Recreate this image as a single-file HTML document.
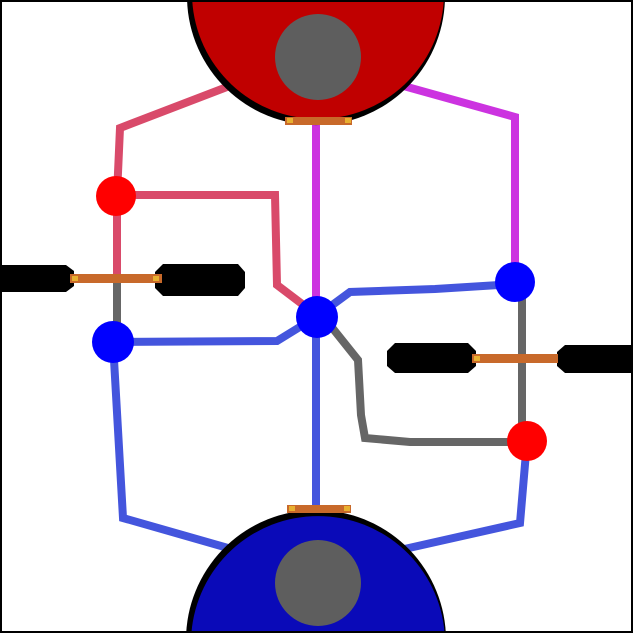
<!DOCTYPE html>
<html><head><meta charset="utf-8"><style>
html,body{margin:0;padding:0;background:#fff;width:633px;height:633px;overflow:hidden}
svg{display:block;overflow:hidden}
</style></head><body>
<svg width="633" height="633" viewBox="0 0 633 633">
<rect x="0" y="0" width="633" height="633" fill="#fff"/>
<g fill="none" stroke-width="8" stroke-linejoin="miter">
<polyline stroke="#d94a6a" points="240,82 120,128 117,195 117,278"/>
<polyline stroke="#d94a6a" points="130,195 275,195 277,285 310,310"/>
<polyline stroke="#cc33e0" points="316,122 316,310"/>
<polyline stroke="#cc33e0" points="400,85 515,117 515,280"/>
<polyline stroke="#666" points="117,282 117,340"/>
<polyline stroke="#666" points="522,282 522,441"/>
<polyline stroke="#666" points="330,325 358,360 361,415 365,438 410,442 527,442"/>
<polyline stroke="#4455dd" points="113,342 277,341 316,317"/>
<polyline stroke="#4455dd" points="316,317 350,292 435,289 515,284"/>
<polyline stroke="#4455dd" points="316,317 316,512"/>
<polyline stroke="#4455dd" points="113,342 123,518 235,550"/>
<polyline stroke="#4455dd" points="527,441 520,523 400,550"/>
</g>
<g>
<path d="M187.06,0 A129,129 0 0,0 444.94,0 Z" fill="#000"/>
<path d="M192.2,0 A126,126 0 0,0 443.8,0 Z" fill="#c00000"/>
<circle cx="318" cy="57" r="43" fill="#5e5e5e"/>
</g>
<g>
<path d="M186.19,633 A130,130 0 0,1 445.81,633 Z" fill="#000"/>
<path d="M191.4,633 A127,127 0 0,1 444.6,633 Z" fill="#0a0ab8"/>
<circle cx="318" cy="583" r="43" fill="#5e5e5e"/>
</g>
<g>
<path d="M0,265 H66 L74,271 V286 L66,292 H0 Z" fill="#000"/>
<path d="M163,264 H238 L245,272 V288 L238,296 H163 L155,288 V272 Z" fill="#000"/>
<rect x="70" y="274" width="92" height="9" fill="#c8692a"/>
<rect x="72" y="276" width="6" height="5" fill="#e8b030"/>
<rect x="153" y="276" width="6" height="5" fill="#e8b030"/>
</g>
<g>
<path d="M395,343 H468 L476,351 V366 L468,373 H395 L387,366 V351 Z" fill="#000"/>
<path d="M565,345 H633 V373 H565 L557,366 V352 Z" fill="#000"/>
<rect x="472" y="354" width="86" height="9" fill="#c8692a"/>
<rect x="474" y="356" width="6" height="5" fill="#e8b030"/>
</g>
<g>
<rect x="285" y="117" width="67" height="8" fill="#c8692a"/>
<rect x="287" y="118" width="6" height="5" fill="#e8b030"/>
<rect x="345" y="118" width="6" height="5" fill="#e8b030"/>
</g>
<g>
<rect x="287" y="505" width="64" height="8" fill="#c8692a"/>
<rect x="289" y="506" width="6" height="5" fill="#e8b030"/>
<rect x="344" y="506" width="6" height="5" fill="#e8b030"/>
</g>
<circle cx="116" cy="196" r="20" fill="#ff0000"/>
<circle cx="527" cy="441" r="20" fill="#ff0000"/>
<circle cx="113" cy="342" r="21" fill="#0000ff"/>
<circle cx="317" cy="317" r="21" fill="#0000ff"/>
<circle cx="515" cy="282" r="20" fill="#0000ff"/>
<rect x="1" y="1" width="631" height="631" fill="none" stroke="#000" stroke-width="2"/>
</svg>
</body></html>
